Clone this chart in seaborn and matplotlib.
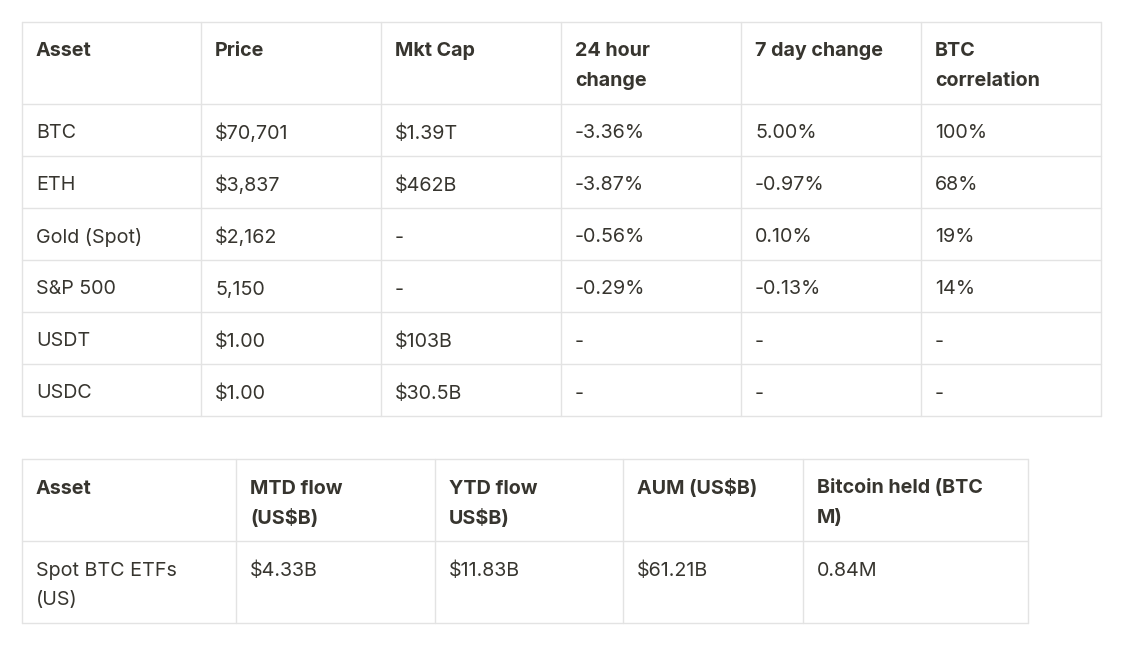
import matplotlib
matplotlib.use("Agg")
import matplotlib.pyplot as plt
import seaborn as sns

sns.set_theme(style="white")
plt.rcParams['font.family'] = ['Inter', 'DejaVu Sans']

# table 1 data
t1_headers = ["Asset", "Price", "Mkt Cap", "24 hour\nchange", "7 day change", "BTC\ncorrelation"]
t1_assets = ["BTC", "ETH", "Gold (Spot)", "S&P 500", "USDT", "USDC"]
t1_price = ["$70,701", "$3,837", "$2,162", "5,150", "$1.00", "$1.00"]
t1_mktcap = ["$1.39T", "$462B", "-", "-", "$103B", "$30.5B"]
t1_chg24 = ["-3.36%", "-3.87%", "-0.56%", "-0.29%", "-", "-"]
t1_chg7 = ["5.00%", "-0.97%", "0.10%", "-0.13%", "-", "-"]
t1_corr = ["100%", "68%", "19%", "14%", "-", "-"]

# table 2 data
t2_headers = ["Asset", "MTD flow\n(US$B)", "YTD flow\nUS$B)", "AUM (US$B)", "Bitcoin held (BTC\nM)"]
t2_rows = [["Spot BTC ETFs\n(US)", "$4.33B", "$11.83B", "$61.21B", "0.84M"]]

TEXT = "#37352f"
LINE = "#e3e3e3"

fig = plt.figure(figsize=(11.24, 6.5), dpi=100)
ax = fig.add_axes([0, 0, 1, 1])
ax.set_xlim(0, 1124)
ax.set_ylim(650, 0)
ax.axis("off")


def draw_table(xs, top, row_heights, headers, rows):
    ys = [top]
    for h in row_heights:
        ys.append(ys[-1] + h)
    for x in xs:
        ax.plot([x, x], [ys[0], ys[-1]], color=LINE, lw=1)
    for y in ys:
        ax.plot([xs[0], xs[-1]], [y, y], color=LINE, lw=1)
    all_rows = [headers] + rows
    for r, row in enumerate(all_rows):
        for c, txt in enumerate(row):
            for k, line in enumerate(txt.split("\n")):
                ax.text(xs[c] + 14, ys[r] + 29.5 + 30 * k, line, ha="left", va="center",
                        fontsize=14.2, color=TEXT,
                        fontweight="bold" if r == 0 else "normal")


t1_rows = [list(r) for r in zip(t1_assets, t1_price, t1_mktcap, t1_chg24, t1_chg7, t1_corr)]
draw_table([22, 201, 381, 561, 741, 921, 1101], 22, [82] + [52] * 6, t1_headers, t1_rows)
draw_table([22, 236, 435, 623, 803, 1028], 459, [82, 82], t2_headers, t2_rows)

fig.savefig("out.png", dpi=100, facecolor="white")
